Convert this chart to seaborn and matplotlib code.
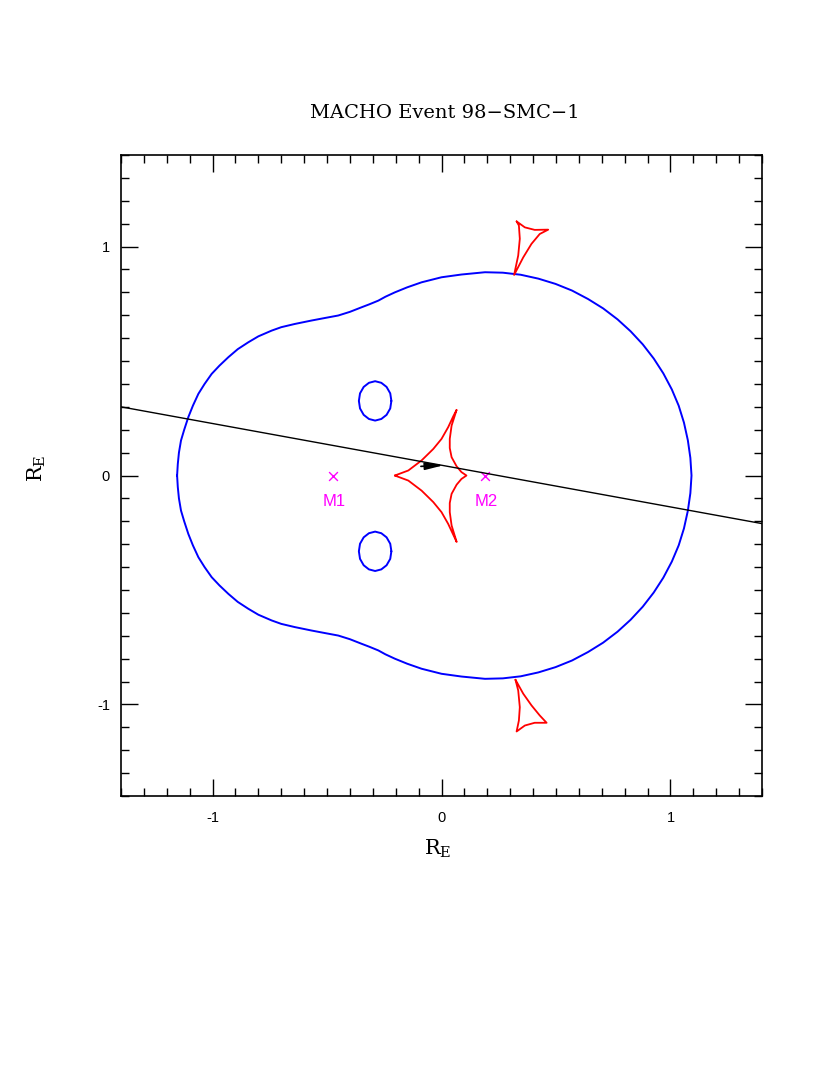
import matplotlib
matplotlib.use("Agg")
import matplotlib.pyplot as plt
from matplotlib.ticker import MultipleLocator
import seaborn as sns

# outer critical curve, upper half (left -> right)
crit_up_x = [-1.155, -1.152, -1.147, -1.138, -1.124, -1.106, -1.086, -1.062, -1.035, -1.004,
             -0.970, -0.931, -0.890, -0.844, -0.800, -0.742, -0.700, -0.641, -0.568, -0.510,
             -0.451, -0.400, -0.349, -0.315, -0.276, -0.245, -0.204, -0.150, -0.087, 0.000,
             0.087, 0.190, 0.268, 0.346, 0.423, 0.498, 0.570, 0.640, 0.706, 0.769,
             0.826, 0.879, 0.927, 0.969, 1.006, 1.036, 1.059, 1.076, 1.087, 1.092]
crit_up_y = [0.000, 0.050, 0.100, 0.153, 0.200, 0.255, 0.305, 0.357, 0.400, 0.444,
             0.480, 0.517, 0.552, 0.582, 0.608, 0.633, 0.648, 0.662, 0.677, 0.688,
             0.699, 0.715, 0.735, 0.748, 0.764, 0.781, 0.800, 0.822, 0.844, 0.866,
             0.878, 0.888, 0.886, 0.877, 0.860, 0.837, 0.808, 0.771, 0.730, 0.682,
             0.630, 0.573, 0.511, 0.446, 0.376, 0.305, 0.231, 0.154, 0.077, 0.000]
# lower half (right -> left), mirror image in the picture
crit_lo_x = [1.087, 1.076, 1.059, 1.036, 1.006, 0.969, 0.927, 0.879, 0.826, 0.769,
             0.706, 0.640, 0.570, 0.498, 0.423, 0.346, 0.268, 0.190, 0.087, 0.000,
             -0.087, -0.150, -0.204, -0.245, -0.276, -0.315, -0.349, -0.400, -0.451, -0.510,
             -0.568, -0.641, -0.700, -0.742, -0.800, -0.844, -0.890, -0.931, -0.970, -1.004,
             -1.035, -1.062, -1.086, -1.106, -1.124, -1.138, -1.147, -1.152, -1.155]
crit_lo_y = [-0.077, -0.154, -0.231, -0.305, -0.376, -0.446, -0.511, -0.573, -0.630, -0.682,
             -0.730, -0.771, -0.808, -0.837, -0.860, -0.877, -0.886, -0.888, -0.878, -0.866,
             -0.844, -0.822, -0.800, -0.781, -0.764, -0.748, -0.735, -0.715, -0.699, -0.688,
             -0.677, -0.662, -0.648, -0.633, -0.608, -0.582, -0.552, -0.517, -0.480, -0.444,
             -0.400, -0.357, -0.305, -0.255, -0.200, -0.153, -0.100, -0.050, 0.000]

# small critical ovals
oval_up_x = [-0.219, -0.224, -0.240, -0.263, -0.290, -0.317, -0.340, -0.356, -0.361,
             -0.356, -0.340, -0.317, -0.290, -0.263, -0.240, -0.224, -0.219]
oval_up_y = [0.326, 0.359, 0.387, 0.405, 0.412, 0.405, 0.387, 0.359, 0.326,
             0.293, 0.265, 0.247, 0.240, 0.247, 0.265, 0.293, 0.326]
oval_lo_x = [-0.219, -0.224, -0.240, -0.263, -0.290, -0.317, -0.340, -0.356, -0.361,
             -0.356, -0.340, -0.317, -0.290, -0.263, -0.240, -0.224, -0.219]
oval_lo_y = [-0.331, -0.298, -0.270, -0.252, -0.245, -0.252, -0.270, -0.298, -0.331,
             -0.364, -0.392, -0.410, -0.417, -0.410, -0.392, -0.364, -0.331]

# central caustic
caus_x = [-0.204, -0.145, -0.087, -0.036, 0.000, 0.029, 0.051, 0.066,
          0.044, 0.036, 0.036, 0.044, 0.066, 0.087, 0.109,
          0.087, 0.066, 0.044, 0.036, 0.036, 0.044, 0.066,
          0.051, 0.029, 0.000, -0.036, -0.087, -0.145, -0.204]
caus_y = [0.000, 0.022, 0.066, 0.116, 0.160, 0.211, 0.258, 0.287,
          0.218, 0.160, 0.120, 0.080, 0.040, 0.015, 0.000,
          -0.015, -0.040, -0.080, -0.120, -0.160, -0.218, -0.290,
          -0.258, -0.211, -0.160, -0.116, -0.066, -0.022, 0.000]

# small outer caustics
caus_top_x = [0.328, 0.364, 0.407, 0.466, 0.429, 0.393, 0.357, 0.317, 0.335, 0.342, 0.338, 0.328]
caus_top_y = [1.110, 1.084, 1.073, 1.074, 1.055, 1.012, 0.953, 0.876, 0.961, 1.034, 1.092, 1.110]
caus_bot_x = [0.323, 0.357, 0.393, 0.429, 0.459, 0.407, 0.364, 0.328, 0.338, 0.342, 0.335, 0.323]
caus_bot_y = [-0.892, -0.953, -1.004, -1.048, -1.080, -1.080, -1.092, -1.118, -1.070, -1.012, -0.939, -0.892]

# source trajectory and direction arrow
traj_x = [-1.4, 1.4]
traj_y = [0.30, -0.21]
arrow_tail = (-0.090, 0.040)
arrow_tip = (0.010, 0.045)

# lens masses
mass_x = [-0.476, 0.192]
mass_y = [0.0, 0.0]
mass_labels = ["M1", "M2"]

sns.set_style("white")
plt.rcParams["font.family"] = ["Liberation Sans", "DejaVu Sans"]
plt.rcParams["axes.unicode_minus"] = False
plt.rcParams["text.color"] = "black"
plt.rcParams["xtick.color"] = "black"
plt.rcParams["ytick.color"] = "black"

fig = plt.figure(figsize=(8.3, 10.75), dpi=100)
ax = fig.add_axes([0.1458, 0.2595, 0.7723, 0.5963])

sns.lineplot(x=crit_up_x + crit_lo_x, y=crit_up_y + crit_lo_y, sort=False, estimator=None,
             color="blue", lw=1.4, ax=ax)
sns.lineplot(x=oval_up_x, y=oval_up_y, sort=False, estimator=None, color="blue", lw=1.4, ax=ax)
sns.lineplot(x=oval_lo_x, y=oval_lo_y, sort=False, estimator=None, color="blue", lw=1.4, ax=ax)
sns.lineplot(x=caus_x, y=caus_y, sort=False, estimator=None, color="red", lw=1.3, ax=ax)
sns.lineplot(x=caus_top_x, y=caus_top_y, sort=False, estimator=None, color="red", lw=1.3, ax=ax)
sns.lineplot(x=caus_bot_x, y=caus_bot_y, sort=False, estimator=None, color="red", lw=1.3, ax=ax)
sns.lineplot(x=traj_x, y=traj_y, sort=False, estimator=None, color="black", lw=1.0, ax=ax)
ax.annotate("", xy=arrow_tip, xytext=arrow_tail,
            arrowprops=dict(arrowstyle="-|>,head_length=1.1,head_width=0.22",
                            color="black", lw=1.2, shrinkA=0, shrinkB=0))

sns.scatterplot(x=mass_x, y=mass_y, marker="x", color="magenta", s=40, linewidth=1.0, ax=ax)
for mx, my, lab in zip(mass_x, mass_y, mass_labels):
    ax.text(mx + 0.005, my - 0.115, lab, color="magenta", fontsize=12,
            ha="center", va="center")

ax.set_xlim(-1.4, 1.4)
ax.set_ylim(-1.4, 1.4)
ax.xaxis.set_major_locator(MultipleLocator(1))
ax.yaxis.set_major_locator(MultipleLocator(1))
ax.xaxis.set_minor_locator(MultipleLocator(0.1))
ax.yaxis.set_minor_locator(MultipleLocator(0.1))
ax.tick_params(which="both", direction="in", top=True, right=True, bottom=True, left=True,
               color="black", width=1.0)
ax.tick_params(which="major", length=12, labelsize=10.5, labelcolor="black")
ax.tick_params(axis="x", which="major", pad=11)
ax.tick_params(axis="y", which="major", pad=8)
ax.tick_params(which="minor", length=6)
for sp in ax.spines.values():
    sp.set_color("black")
    sp.set_linewidth(1.2)

fig.text(0.536, 0.895, "MACHO Event 98\u2212SMC\u22121", family="DejaVu Serif",
         fontsize=14, ha="center", va="center", color="black")
fig.text(0.527, 0.210, r"$\mathregular{R_E}$", family="DejaVu Serif",
         fontsize=15, ha="center", va="center", color="black")
fig.text(0.045, 0.564, r"$\mathregular{R_E}$", family="DejaVu Serif",
         fontsize=15, ha="center", va="center", rotation=90, color="black")

fig.savefig("out.png", dpi=100)
